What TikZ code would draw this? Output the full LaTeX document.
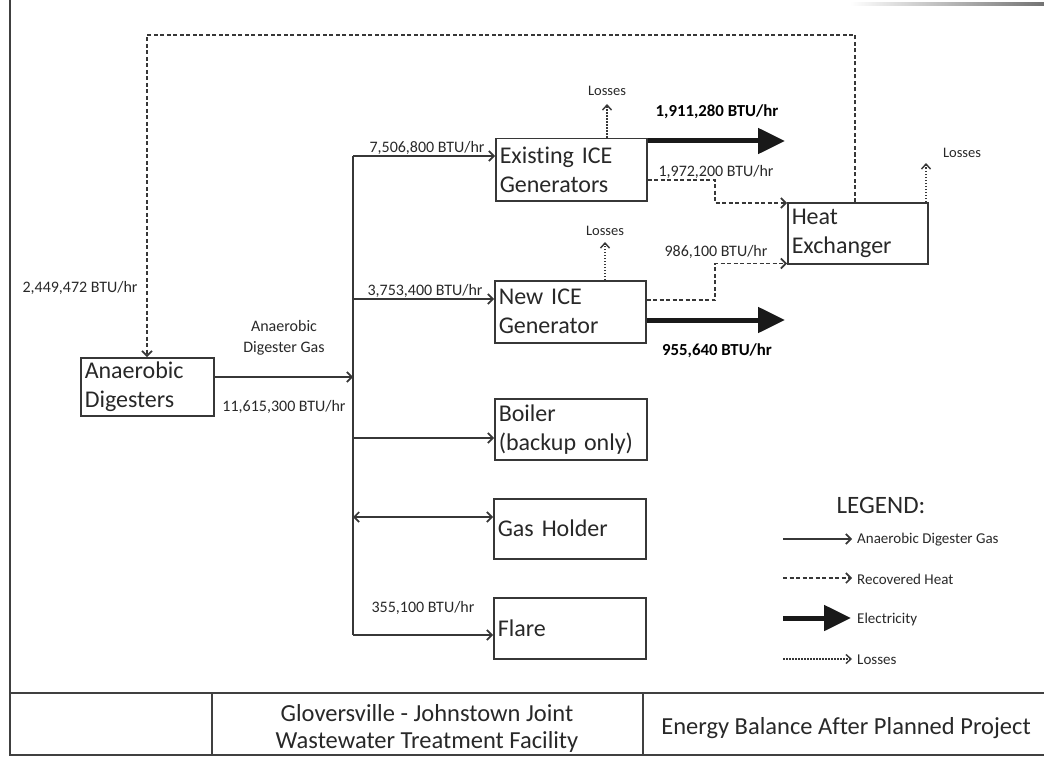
\documentclass[tikz,border=0pt]{standalone}
\usepackage{fontspec}
\setmainfont{Carlito}[Ligatures=NoCommon]
\usetikzlibrary{arrows.meta,calc}
\definecolor{ink}{RGB}{40,40,40}
\definecolor{lineclr}{RGB}{55,55,55}
\tikzset{
  box/.style={draw=lineclr,line width=1.5pt,anchor=north west,inner xsep=4pt,inner ysep=1pt,align=left,text=ink,font=\fontsize{24}{29}\selectfont},
  lbl/.style={text=ink,inner sep=0pt,font=\fontsize{16}{21}\selectfont},
  blbl/.style={text=black,inner sep=0pt,font=\fontsize{16.8}{21}\selectfont\bfseries},
  loss/.style={text=ink,inner sep=0pt,font=\fontsize{14.5}{16}\selectfont},
  leg/.style={text=ink,inner sep=0pt,anchor=west,font=\fontsize{15}{17}\selectfont},
  gas/.style={draw=lineclr,line width=1.7pt,-{Straight Barb[length=5pt,width=10pt]}},
  gasbi/.style={draw=lineclr,line width=1.7pt,{Straight Barb[length=5pt,width=10pt]}-{Straight Barb[length=5pt,width=10pt]}},
  heat/.style={draw=lineclr,line width=1.6pt,dash pattern=on 4pt off 2.5pt,-{Straight Barb[length=5pt,width=10pt]}},
  lossarr/.style={draw=lineclr,line width=1.4pt,dash pattern=on 1.5pt off 1.5pt,-{Straight Barb[length=5pt,width=9pt]}},
  elec/.style={draw=black!90,line width=5pt,-{Triangle[length=27pt,width=25pt]}},
  frameline/.style={draw=black!75,line width=2pt},
}
\begin{document}
\begin{tikzpicture}[x=1pt,y=-1pt]
\useasboundingbox (0,0) rectangle (1044,757);
% scan artifact
\shade[left color=white,right color=black!55] (850,3) rectangle (1044,6);
% frame and title block
\draw[frameline] (10,0) -- (10,756);
\draw[frameline] (10,693) -- (1044,693);
\draw[frameline] (10,755) -- (1044,755);
\draw[frameline] (212,693) -- (212,755);
\draw[frameline] (643,693) -- (643,755);
\node[text=ink,align=center,font=\fontsize{24.5}{27}\selectfont] (tb1) at (427,728) {Gloversville - Johnstown Joint\\Wastewater Treatment Facility};
\node[text=ink,font=\fontsize{24.5}{27}\selectfont] (tb2) at (846,728) {Energy Balance After Planned Project};

% boxes
\node[box,minimum width=133pt,minimum height=58pt,text width=125pt] (AD) at (80,357) {Anaerobic\\Digesters};
\node[box,minimum width=151pt,minimum height=62pt,text width=143pt] (EX) at (495,138) {Existing ICE\\Generators};
\node[box,minimum width=151pt,minimum height=62pt,text width=143pt] (NEW) at (494,280) {New ICE\\Generator};
\node[box,minimum width=140pt,minimum height=61pt,text width=132pt] (HX) at (787,202) {Heat\\Exchanger};
\node[box,minimum width=152pt,minimum height=61pt,text width=144pt] (BO) at (494,398) {Boiler\\(backup only)};
\node[box,minimum width=152pt,minimum height=60pt,text width=144pt] (GH) at (493,498) {Gas Holder};
\node[box,minimum width=152pt,minimum height=61pt,text width=144pt] (FL) at (493,597) {Flare};

% bus coordinates
\coordinate (bEX) at (353,156);
\coordinate (bNEW) at (353,299);
\coordinate (bIN) at (353,377);
\coordinate (bBO) at (353,438);
\coordinate (bGH) at (353,517);
\coordinate (bFL) at (353,635);
\draw[draw=lineclr,line width=1.7pt] (bEX) -- (bFL);
\draw[gas] (AD.east |- bIN) -- (bIN);
\draw[gas] (bEX) -- (bEX -| EX.west);
\draw[gas] (bNEW) -- (bNEW -| NEW.west);
\draw[gas] (bBO) -- (bBO -| BO.west);
\draw[gasbi] (bGH) -- (bGH -| GH.west);
\draw[gas] (bFL) -- (bFL -| FL.west);

% gas labels
\node[lbl,align=center] (lgas) at (284,338) {Anaerobic\\Digester Gas};
\node[lbl] (lin) at (284,407) {11,615,300 BTU/hr};
\node[lbl] (lex) at (427,148) {7,506,800 BTU/hr};
\node[lbl] (lnew) at (425,291) {3,753,400 BTU/hr};
\node[lbl] (lfl) at (423,608) {355,100 BTU/hr};

% recovered heat loop to digesters
\coordinate (t1) at (855,35);
\coordinate (t2) at (147,35);
\draw[heat] (t1 |- HX.north) -- (t1) -- (t2) -- (t2 |- AD.north);
\node[lbl] (lrec) at (80,288) {2,449,472 BTU/hr};

% losses
\coordinate (lsEX) at (607,104);
\coordinate (lsNEW) at (605,242);
\coordinate (lsHX) at (926,163);
\draw[lossarr] (EX.north -| lsEX) -- (lsEX);
\draw[lossarr] (NEW.north -| lsNEW) -- (lsNEW);
\draw[lossarr] (HX.north -| lsHX) -- (lsHX);
\node[loss] (L1) at (607,91) {Losses};
\node[loss] (L2) at (605,231) {Losses};
\node[loss] (L3) at (962,153) {Losses};

% electricity
\coordinate (eEX) at (785,141);
\coordinate (eNEW) at (785,320);
\draw[elec] (EX.east |- eEX) -- (eEX);
\draw[elec] (NEW.east |- eNEW) -- (eNEW);
\node[blbl] (le1) at (717,112) {1,911,280 BTU/hr};
\node[blbl] (le2) at (717,351) {955,640 BTU/hr};

% heat to exchanger
\coordinate (hEX) at (715,180);
\coordinate (hNEW) at (715,300);
\draw[heat] (EX.east |- hEX) -- (hEX) -- ($(hEX |- HX.north)+(0,1)$) -- ($(HX.north west)+(0,1)$);
\draw[heat] (NEW.east |- hNEW) -- (hNEW) -- ($(hNEW |- HX.south)+(0,-1)$) -- ($(HX.south west)+(0,-1)$);
\node[lbl] (lh1) at (716,172) {1,972,200 BTU/hr};
\node[lbl] (lh2) at (716,252) {986,100 BTU/hr};

% legend
\node[text=ink,font=\fontsize{25}{29}\selectfont] (LG) at (881,505) {LEGEND:};
\coordinate (g1a) at (783,539); \coordinate (g1b) at (852,539);
\coordinate (g2a) at (783,578); \coordinate (g2b) at (852,578);
\coordinate (g3a) at (783,618); \coordinate (g3b) at (851,618);
\coordinate (g4a) at (783,659); \coordinate (g4b) at (852,659);
\draw[gas] (g1a) -- (g1b);
\draw[heat] (g2a) -- (g2b);
\draw[elec] (g3a) -- (g3b);
\draw[lossarr] (g4a) -- (g4b);
\node[leg] (t1l) at (857,540) {Anaerobic Digester Gas};
\node[leg] (t2l) at (857,579) {Recovered Heat};
\node[leg] (t3l) at (857,619) {Electricity};
\node[leg] (t4l) at (857,660) {Losses};
\end{tikzpicture}
\end{document}
